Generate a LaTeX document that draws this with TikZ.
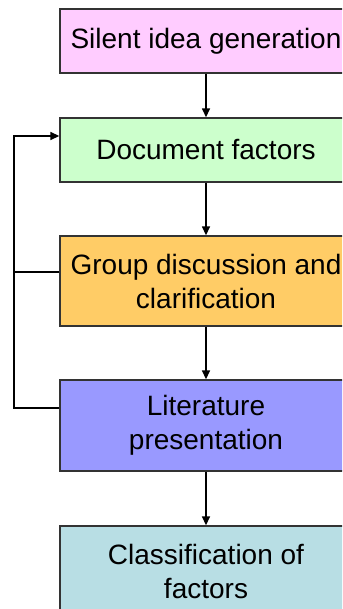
\documentclass[tikz,border=0pt]{standalone}
\usepackage{fontspec}
\setmainfont{Liberation Sans}
\usetikzlibrary{arrows.meta}
\definecolor{cpink}{HTML}{FFCCFF}
\definecolor{cgreen}{HTML}{CCFFCC}
\definecolor{corange}{HTML}{FFCC66}
\definecolor{cblue}{HTML}{9999FF}
\definecolor{cteal}{HTML}{B8DEE4}
\definecolor{cborder}{HTML}{333333}
\tikzset{
  stepbox/.style={draw=cborder, line width=1.4pt, rectangle, minimum width=292pt, inner sep=0pt, align=center,
    font=\fontsize{28}{34}\selectfont, text=black},
  flow/.style={line width=1.5pt, draw=black, -{Triangle[length=9pt,width=8pt]}},
  plain/.style={line width=1.5pt, draw=black}
}
\begin{document}
\begin{tikzpicture}[x=1pt,y=-1pt]
\useasboundingbox (0,0) rectangle (342,609);
\clip (0,0) rectangle (342,609);
\node[stepbox, fill=cpink, minimum height=64pt] (b1) at (206,41) {Silent idea generation};
\node[stepbox, fill=cgreen, minimum height=64pt] (b2) at (206,150) {Document factors};
\node[stepbox, fill=corange, minimum height=90pt] (b3) at (206,281) {Group discussion and\\clarification};
\node[stepbox, fill=cblue, minimum height=91pt] (b4) at (206,425.5) {Literature\\presentation};
\node[stepbox, fill=cteal, minimum height=91pt] (b5) at (206,571.5) {Classification of\\factors};
\draw[flow] (b1) -- (b2);
\draw[flow] (b2) -- (b3);
\draw[flow] (b3) -- (b4);
\draw[flow] (b4) -- (b5);
\coordinate (f4) at (14,408);
\coordinate (f3) at (14,272);
\coordinate (f2) at (14,136);
\draw[flow] (b4.west |- f4) -- (f4) -- (f2) -- (b2.west |- f2);
\draw[plain] (b3.west |- f3) -- (f3);
\end{tikzpicture}
\end{document}
